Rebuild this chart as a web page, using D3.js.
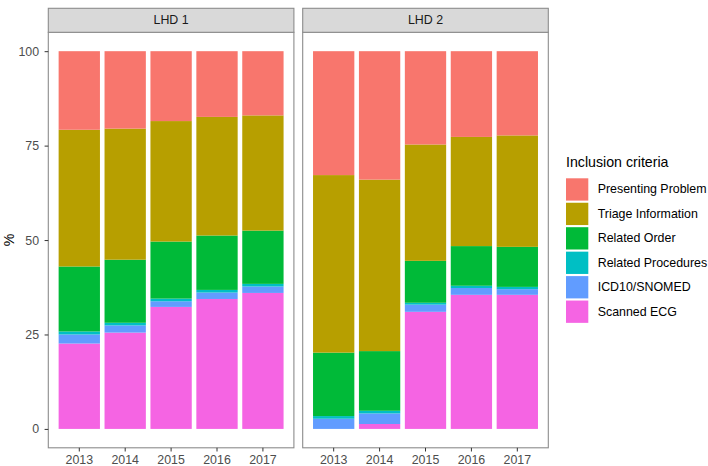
<!DOCTYPE html>
<html>
<head>
<meta charset="utf-8">
<script src="https://cdn.jsdelivr.net/npm/d3@7"></script>
<style>
  html, body { margin: 0; padding: 0; background: #fff; }
  svg { display: block; font-family: "Liberation Sans", Arial, Helvetica, sans-serif; }
</style>
</head>
<body>
<svg id="chart" width="708" height="466"></svg>
<script>
// ---- data ----
const years = ["2013", "2014", "2015", "2016", "2017"];
const panels = ["LHD 1", "LHD 2"];
const categories = ["Presenting Problem", "Triage Information", "Related Order",
                    "Related Procedures", "ICD10/SNOMED", "Scanned ECG"];
const colors = ["#F8766D", "#B79F00", "#00BA38", "#00BFC4", "#619CFF", "#F564E3"];
const yTicks = [0, 25, 50, 75, 100];

// LHD 1 (% per year)
const lhd1Presenting = [20.8, 20.5, 18.5, 17.4, 17.0];
const lhd1Triage     = [36.2, 34.7, 31.9, 31.4, 30.5];
const lhd1Order      = [17.2, 16.7, 15.1, 14.4, 14.1];
const lhd1Procedures = [0.8, 0.7, 0.7, 0.7, 0.7];
const lhd1Icd        = [2.4, 1.9, 1.5, 1.7, 1.7];
const lhd1Ecg        = [22.6, 25.5, 32.3, 34.4, 36.0];
// LHD 2 (% per year)
const lhd2Presenting = [32.8, 34.0, 24.7, 22.7, 22.3];
const lhd2Triage     = [47.0, 45.4, 30.8, 28.9, 29.5];
const lhd2Order      = [16.8, 15.8, 11.1, 10.5, 10.6];
const lhd2Procedures = [0.7, 0.7, 0.5, 0.6, 0.6];
const lhd2Icd        = [2.7, 2.8, 1.9, 1.8, 1.5];
const lhd2Ecg        = [0.0, 1.3, 31.0, 35.5, 35.5];

const panelSeries = [
  [lhd1Presenting, lhd1Triage, lhd1Order, lhd1Procedures, lhd1Icd, lhd1Ecg],
  [lhd2Presenting, lhd2Triage, lhd2Order, lhd2Procedures, lhd2Icd, lhd2Ecg]
];

// ---- layout ----
const svg = d3.select("#chart");
const panelTop = 32.3, panelBottom = 447.8, stripTop = 8.3;
const panelX = [[48.3, 293.9], [302.7, 548.3]];
const fontSmall = 12.4, fontTitle = 14.2;
const textGrey = "#4D4D4D";

const y = d3.scaleLinear().domain([-5, 105]).range([panelBottom, panelTop]);
const color = d3.scaleOrdinal().domain(categories).range(colors);
const stackKeys = categories.slice().reverse(); // bottom-up

panels.forEach((pname, pi) => {
  const [x0, x1] = panelX[pi];
  const x = d3.scaleBand().domain(years).range([x0, x1]).paddingInner(0.1).paddingOuter(0.225);

  const rows = years.map((yr, i) => {
    const r = { year: yr };
    categories.forEach((c, ci) => { r[c] = panelSeries[pi][ci][i]; });
    return r;
  });
  const stacked = d3.stack().keys(stackKeys)(rows);

  const g = svg.append("g");
  // panel background
  g.append("rect").attr("x", x0).attr("y", panelTop).attr("width", x1 - x0)
    .attr("height", panelBottom - panelTop).attr("fill", "#fff");

  g.selectAll("g.layer").data(stacked).join("g")
    .attr("class", "layer")
    .attr("fill", d => color(d.key))
    .selectAll("rect").data(d => d).join("rect")
      .attr("x", d => x(d.data.year))
      .attr("width", x.bandwidth())
      .attr("y", d => y(d[1]))
      .attr("height", d => Math.max(0, y(d[0]) - y(d[1])));

  // panel border
  g.append("rect").attr("x", x0).attr("y", panelTop).attr("width", x1 - x0)
    .attr("height", panelBottom - panelTop).attr("fill", "none")
    .attr("stroke", "#8c8c8c").attr("stroke-width", 1.1);

  // strip
  g.append("rect").attr("x", x0).attr("y", stripTop).attr("width", x1 - x0)
    .attr("height", panelTop - stripTop).attr("fill", "#D9D9D9")
    .attr("stroke", "#8c8c8c").attr("stroke-width", 1.1);
  g.append("text").attr("x", (x0 + x1) / 2).attr("y", (stripTop + panelTop) / 2)
    .attr("text-anchor", "middle").attr("dominant-baseline", "central")
    .attr("font-size", fontSmall).attr("fill", "#1A1A1A").text(pname);

  // x axis
  const xa = svg.append("g").attr("transform", `translate(0,${panelBottom})`)
    .call(d3.axisBottom(x).tickSize(3.7).tickPadding(4));
  xa.select(".domain").remove();
  xa.selectAll("line").attr("stroke", "#333").attr("stroke-width", 1);
  xa.selectAll("text").attr("font-size", fontSmall).attr("fill", textGrey)
    .attr("font-family", "Liberation Sans, Arial, sans-serif");

  if (pi === 0) {
    const ya = svg.append("g").attr("transform", `translate(${x0},0)`)
      .call(d3.axisLeft(y).tickValues(yTicks).tickSize(3.7).tickPadding(5.5));
    ya.select(".domain").remove();
    ya.selectAll("line").attr("stroke", "#333").attr("stroke-width", 1);
    ya.selectAll("text").attr("font-size", fontSmall).attr("fill", textGrey)
      .attr("font-family", "Liberation Sans, Arial, sans-serif");
  }
});

// y axis title
svg.append("text").attr("transform", `translate(13.5,${(panelTop + panelBottom) / 2}) rotate(-90)`)
  .attr("text-anchor", "middle").attr("font-size", fontTitle).attr("fill", "#000").text("%");

// legend
const legend = svg.append("g");
legend.append("text").attr("x", 566).attr("y", 167).attr("font-size", fontTitle)
  .attr("fill", "#000").text("Inclusion criteria");
const keyY0 = 178.3, keyStep = 24.45, keyW = 22.3, keyH = 22.3;
categories.forEach((c, i) => {
  const ky = keyY0 + i * keyStep;
  legend.append("rect").attr("x", 566).attr("y", ky).attr("width", keyW).attr("height", keyH)
    .attr("fill", color(c));
  legend.append("text").attr("x", 597.7).attr("y", ky + keyH / 2)
    .attr("dominant-baseline", "central").attr("font-size", fontSmall)
    .attr("fill", "#000").text(c);
});
</script>
</body>
</html>
